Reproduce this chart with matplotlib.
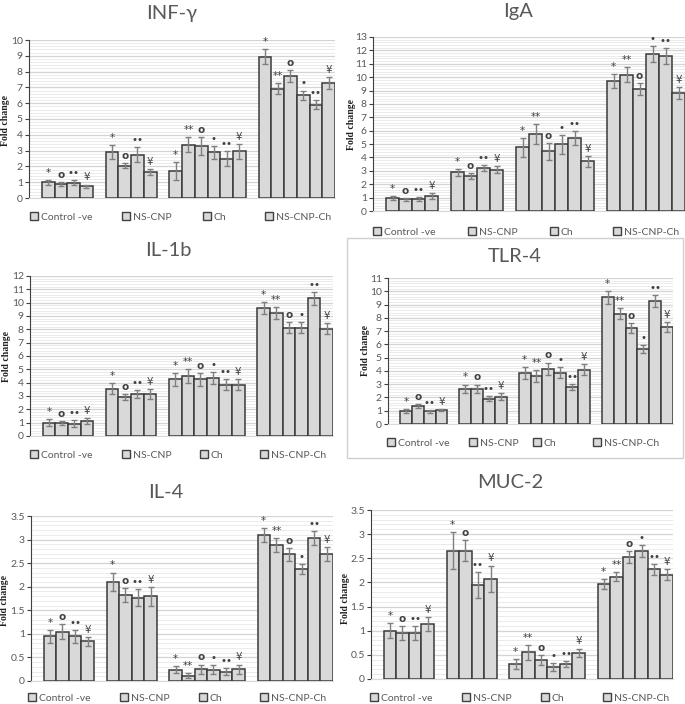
import matplotlib
matplotlib.use("Agg")
import matplotlib.pyplot as plt
from matplotlib.patches import Patch, Rectangle
from matplotlib.ticker import MultipleLocator, FormatStrFormatter

plt.rcParams['font.family'] = ['Lato', 'DejaVu Sans']

# groups shown in every panel
groups = ["Control -ve", "NS-CNP", "Ch", "NS-CNP-Ch"]
marks_4 = ["*", "o", "••", "¥"]
marks_6 = ["*", "**", "o", "•", "••", "¥"]

# INF-gamma
inf_mean = [[1.0, 0.88, 0.98, 0.75],
            [2.92, 2.05, 2.75, 1.65],
            [1.7, 3.38, 3.28, 2.88, 2.5, 2.95],
            [8.95, 6.92, 7.72, 6.5, 5.9, 7.28]]
inf_err = [[0.15, 0.15, 0.15, 0.1],
           [0.45, 0.18, 0.45, 0.2],
           [0.55, 0.5, 0.55, 0.42, 0.48, 0.48],
           [0.45, 0.35, 0.38, 0.3, 0.28, 0.35]]

# IgA
iga_mean = [[1.0, 0.88, 0.92, 1.12],
            [2.88, 2.62, 3.18, 3.08],
            [4.75, 5.72, 4.45, 4.98, 5.45, 3.72],
            [9.7, 10.18, 9.08, 11.7, 11.55, 8.8]]
iga_err = [[0.15, 0.1, 0.15, 0.2],
           [0.25, 0.2, 0.22, 0.25],
           [0.7, 0.75, 0.65, 0.72, 0.55, 0.42],
           [0.5, 0.55, 0.45, 0.6, 0.6, 0.45]]

# IL-1b
il1_mean = [[1.0, 0.95, 0.92, 1.12],
            [3.55, 2.92, 3.12, 3.15],
            [4.25, 4.5, 4.25, 4.35, 3.85, 3.85],
            [9.62, 9.22, 8.12, 8.12, 10.32, 8.05]]
il1_err = [[0.28, 0.15, 0.28, 0.25],
           [0.4, 0.25, 0.3, 0.35],
           [0.5, 0.55, 0.5, 0.45, 0.4, 0.4],
           [0.45, 0.45, 0.4, 0.4, 0.5, 0.4]]

# TLR-4
tlr_mean = [[1.0, 1.35, 0.95, 1.05],
            [2.65, 2.65, 1.92, 2.05],
            [3.82, 3.62, 4.15, 3.85, 2.78, 4.1],
            [9.55, 8.32, 7.25, 5.65, 9.25, 7.3]]
tlr_err = [[0.15, 0.15, 0.1, 0.1],
           [0.32, 0.32, 0.22, 0.25],
           [0.45, 0.42, 0.48, 0.42, 0.25, 0.4],
           [0.5, 0.42, 0.38, 0.28, 0.45, 0.38]]

# IL-4
il4_mean = [[0.95, 1.05, 0.95, 0.84],
            [2.1, 1.82, 1.77, 1.8],
            [0.24, 0.11, 0.25, 0.24, 0.2, 0.25],
            [3.1, 2.88, 2.69, 2.38, 3.04, 2.7]]
il4_err = [[0.14, 0.15, 0.14, 0.1],
           [0.2, 0.15, 0.18, 0.2],
           [0.08, 0.05, 0.1, 0.1, 0.08, 0.1],
           [0.15, 0.15, 0.14, 0.1, 0.15, 0.15]]

# MUC-2
muc_mean = [[1.0, 0.95, 0.95, 1.14],
            [2.66, 2.66, 1.95, 2.08],
            [0.31, 0.55, 0.39, 0.25, 0.31, 0.54],
            [1.97, 2.12, 2.53, 2.65, 2.27, 2.16]]
muc_err = [[0.15, 0.15, 0.15, 0.14],
           [0.38, 0.22, 0.27, 0.27],
           [0.1, 0.15, 0.1, 0.08, 0.07, 0.09],
           [0.1, 0.1, 0.12, 0.13, 0.12, 0.12]]

W, H = 685, 704
fig = plt.figure(figsize=(W / 100, H / 100), dpi=100)

def px_axes(left, top, right, bottom):
    return fig.add_axes([left / W, 1 - bottom / H, (right - left) / W, (bottom - top) / H])

def draw_panel(box, title, title_xy, ylab_xy, leg_y, leg_x, means, errs, ymax, ystep):
    ax = px_axes(*box)
    # bar positions: one empty slot before each group
    pos = 1
    for means_g, errs_g in zip(means, errs):
        xs = [pos + i + 0.5 for i in range(len(means_g))]
        ax.bar(xs, means_g, width=1.0, color="#d9d9d9", edgecolor="#3a3a3a", linewidth=1.1, zorder=3)
        ax.errorbar(xs, means_g, yerr=errs_g, fmt="none", ecolor="#7f7f7f", elinewidth=1.0,
                    capsize=2.2, capthick=1.0, zorder=4)
        marks = marks_4 if len(means_g) == 4 else marks_6
        for x, m, e, mk in zip(xs, means_g, errs_g, marks):
            ax.annotate(mk, (x, m + e), xytext=(0, 1.5), textcoords="offset points",
                        ha="center", va="bottom", fontsize=7.5, color="#404040",
                        fontweight="bold" if mk == "o" else "normal",
                        family=['DejaVu Sans'])
        pos += len(means_g) + 1
    ax.set_xlim(0, pos - 1)
    ax.set_ylim(0, ymax)
    ax.yaxis.set_major_locator(MultipleLocator(ystep))
    ax.yaxis.set_minor_locator(MultipleLocator(ystep / 5))
    ax.yaxis.set_major_formatter(lambda v, p: f"{v:g}")
    ax.grid(axis="y", which="major", color="#d4d4d4", linewidth=0.9, zorder=0)
    ax.grid(axis="y", which="minor", color="#ebebeb", linewidth=0.7, zorder=0)
    ax.set_xticks([])
    ax.tick_params(axis="y", which="major", direction="out", length=3, width=0.8,
                   color="#404040", labelsize=7.5, labelcolor="#595959", pad=1.5)
    ax.tick_params(axis="y", which="minor", length=0)
    for s in ("top", "right"):
        ax.spines[s].set_visible(False)
    ax.spines["left"].set_color("#404040")
    ax.spines["bottom"].set_color("#d9d9d9")
    fig.text(title_xy[0] / W, 1 - title_xy[1] / H, title, ha="center", va="center",
             fontsize=14.5, color="#595959")
    fig.text(ylab_xy[0] / W, 1 - ylab_xy[1] / H, "Fold change", rotation=90, ha="center", va="center",
             fontsize=7, fontweight="bold", family=["Liberation Serif"], color="#202020")
    # one legend entry per group, spread like the original
    for g, lx in zip(groups, leg_x):
        h = Patch(facecolor="#d9d9d9", edgecolor="#404040", linewidth=1.0)
        fig.legend([h], [g], loc="center left", frameon=False,
                   bbox_to_anchor=(lx / W, 1 - leg_y / H),
                   fontsize=7.5, labelcolor="#595959", handlelength=0.75, handleheight=0.75,
                   handletextpad=0.3, borderpad=0, borderaxespad=0)
    return ax

draw_panel((29, 40, 335, 198), "INF-γ", (172, 14), (6, 120), 217, (30, 122, 203, 265),
           inf_mean, inf_err, 10, 1)
draw_panel((373, 37, 685, 211), "IgA", (518, 12), (351, 124), 232, (373, 468, 550, 613),
           iga_mean, iga_err, 13, 1)
draw_panel((30, 276, 333, 436), "IL-1b", (168, 250), (7, 356), 455, (30, 122, 200, 260),
           il1_mean, il1_err, 12, 1)
draw_panel((388, 278, 673, 424), "TLR-4", (515, 257), (365, 351), 443, (387, 469, 533, 593),
           tlr_mean, tlr_err, 11, 1)
draw_panel((31, 516, 333, 681), "IL-4", (166, 492), (5, 600), 698, (28, 120, 199, 260),
           il4_mean, il4_err, 3.5, 0.5)
draw_panel((371, 510, 673, 679), "MUC-2", (510, 483), (345, 598), 698, (370, 462, 541, 603),
           muc_mean, muc_err, 3.5, 0.5)

# frame around the TLR-4 panel
fig.add_artist(Rectangle((347 / W, 1 - 458 / H), (683 - 347) / W, (458 - 238) / H,
                         transform=fig.transFigure, fill=False, edgecolor="#d0d0d0", linewidth=1.0))

fig.savefig("out.png", dpi=100, facecolor="white")
